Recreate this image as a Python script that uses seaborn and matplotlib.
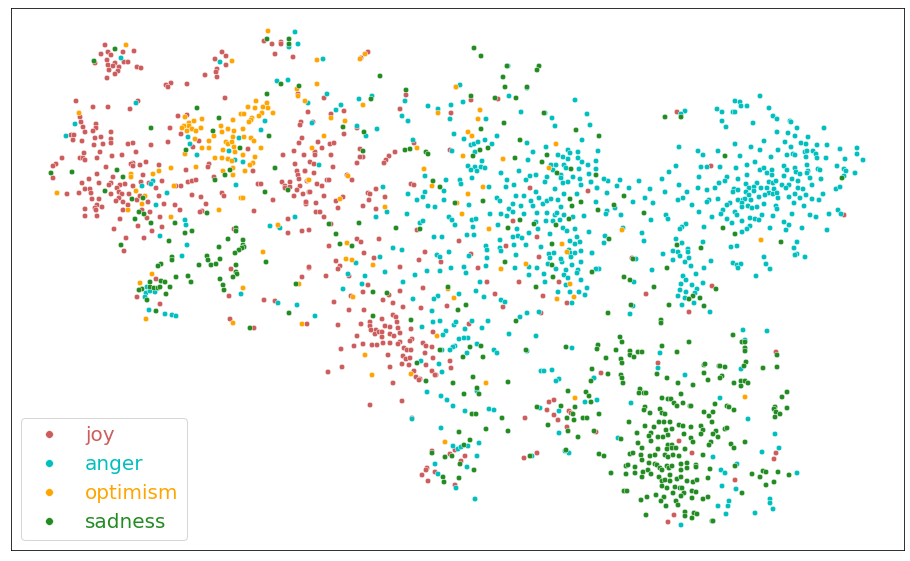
import pandas as pd
import matplotlib
matplotlib.use("Agg")
import matplotlib.pyplot as plt
import seaborn as sns

# --- Data: 2D embedding positions (arbitrary units) ---
labels = ["joy", "anger", "optimism", "sadness"]
colors = ["indianred", "#00bfbf", "orange", "forestgreen"]

joy_points = [
    (105,45),(101,54),(108,52),(111,55),(123,52),(134,51),(107,60),(95,63),(115,63),(108,65),(113,66),(124,62),(128,62),(119,67),(109,70),(118,71),(115,74),(107,78),(137,67),(141,68),
    (222,52),(226,56),(215,59),(226,65),(217,69),(216,72),(217,77),(205,75),(187,84),(171,83),(166,85),(168,87),(264,41),(272,44),(281,42),(281,44),(275,54),(293,57),
    (76,101),(93,107),(108,107),(130,109),(138,101),(225,98),(187,115),(178,116),(298,94),(80,117),(81,122),(96,124),(83,127),(96,128),(93,131),(85,132),(111,132),(71,135),(74,135),
    (95,138),(101,137),(111,139),(73,140),(82,141),(111,143),(103,144),(94,145),(128,144),(133,143),(151,145),(168,142),(170,128),(181,134),(199,141),(193,147),
    (100,152),(84,153),(136,152),(112,156),(122,155),(62,158),(80,158),(83,158),(85,160),(97,158),(56,164),(53,166),(106,167),(133,163),(131,164),(133,166),(140,165),(146,162),(159,165),
    (97,174),(53,178),(113,177),(143,175),(186,170),(82,183),(89,179),(99,183),(111,183),(109,185),(120,185),(125,184),(133,186),(141,182),(149,183),(162,181),(188,182),(192,181),(196,180),(181,186),(176,186),
    (209,164),(208,167),(214,177),(248,149),(253,171),(258,184),(261,184),(283,155),(294,151),(304,155),(295,164),(297,171),(305,171),(298,175),(299,179),(282,182),(290,182),(285,186),(300,186),
    (302,138),(299,143),(301,122),(300,125),(308,112),
    (85,189),(90,189),(91,193),(79,193),(67,194),(92,199),(99,199),(117,188),(119,192),(122,194),(111,194),(129,194),(119,198),(116,201),(123,202),(137,200),(140,196),(148,202),(128,205),(97,205),(102,207),(95,208),(96,210),(85,209),(123,210),(142,210),(150,212),(85,216),(97,216),(147,218),(160,217),(120,219),(138,226),(162,227),(114,229),(152,231),(144,238),(126,238),(124,251),
    (156,188),(159,196),(164,204),(175,205),(180,210),(192,195),(201,197),(206,204),(202,211),(200,212),(222,193),(224,196),(254,211),(273,200),(285,188),(290,187),(297,190),(294,196),(303,194),(309,192),(306,202),(306,204),(288,219),(234,229),(288,233),(302,231),(309,230),(279,227),
    (231,269),(309,268),(302,277),(156,279),(137,297),(160,304),(229,296),(264,300),(275,301),(230,319),(254,328),(307,324),
    (368,52),(361,58),(324,98),(313,122),(331,114),(344,111),(344,134),(357,128),(318,142),(322,148),(330,144),(334,143),(315,152),(315,155),(331,155),(360,149),(414,143),(450,150),(363,157),(360,157),(357,163),(389,156),(386,160),(384,163),(395,152),(310,162),(314,164),(333,167),(305,171),(314,173),(307,181),(327,180),(329,180),(317,184),(322,186),(310,192),(324,196),(306,202),(316,203),(336,201),(343,197),(338,208),(352,180),(347,175),(376,189),(368,193),(370,194),(385,197),(369,200),(363,206),(376,209),(411,184),(414,185),(400,109),(406,95),(456,87),(451,113),(471,100),(498,99),(588,191),(530,188),
    (316,212),(320,212),(324,217),(331,224),(357,239),(361,242),(379,239),(329,246),(364,253),(374,258),(336,261),(340,266),(338,269),(309,267),(326,276),(349,276),(400,267),(425,252),(419,260),(441,262),(417,230),(459,241),(471,254),(478,268),(487,282),(423,288),(506,246),(513,221),(537,237),(539,257),(519,282),(559,282),(495,294),(503,307),(543,296),(567,303),(541,313),
    (368,285),(363,292),(351,296),(334,302),(349,310),(364,310),(383,300),(389,295),(393,303),(400,291),(403,307),(421,308),(447,306),(393,315),(396,317),(382,319),(397,322),(370,322),(361,324),(338,325),(370,326),(371,330),(376,330),(385,326),(390,327),(398,328),(411,329),(433,332),(469,324),(375,334),(379,332),(382,332),(382,337),(390,334),(394,336),(400,333),(357,336),(412,339),(410,341),(400,342),(398,344),(390,343),(383,343),(377,345),(372,345),(363,344),(354,346),(341,349),(423,343),(426,346),(432,347),(404,348),(407,350),(411,350),(425,353),(388,355),(403,356),(406,359),(410,358),(433,358),(450,361),(402,364),(409,365),(426,365),(451,368),(390,367),(342,367),(328,372),(414,371),(432,371),(436,375),(416,377),(420,379),
    (677,112),(711,166),(844,215),(632,258),(646,294),(712,286),(689,312),
    (776,352),(658,363),(601,373),(596,432),(679,441),(692,453),(776,453),(774,459),(735,480),(674,515),(668,522),
    (393,383),(370,405),(402,401),(412,418),(419,380),(435,375),(549,402),(554,400),(547,410),(554,415),(569,411),(571,413),(558,420),(525,418),(567,427),(537,453),(524,458),(432,451),(450,454),(455,450),(465,456),(461,461),(427,468),(426,470),(422,475),(435,472),(428,481),(455,485),
]

anger_points = [
    (121,58),(136,103),(75,124),(66,136),(188,137),(190,144),(197,155),(220,62),(295,32),(298,44),(289,47),(277,81),(288,80),(308,103),(265,121),(261,130),(239,138),(229,151),(235,160),(243,162),(153,181),(142,186),(151,184),(236,185),
    (167,193),(156,205),(185,220),(186,225),(160,236),(187,245),(182,256),(270,226),(280,228),(295,217),(147,287),(146,293),(150,291),(155,292),(145,297),(149,310),(165,314),(172,315),(176,316),(241,294),(278,303),(297,305),
    (323,59),(327,94),(336,110),(341,105),(312,123),(357,126),(366,136),(377,129),(359,99),(372,96),(405,101),(428,106),(402,116),(408,121),(438,109),(451,105),(450,119),(463,102),(460,85),(486,119),(508,66),(509,96),(527,88),(575,100),(521,112),(545,113),(552,118),(555,126),(587,114),(590,125),(582,140),(319,165),(413,140),(454,134),(464,139),(452,151),(471,145),(474,144),(478,142),(485,140),(492,144),(497,136),(475,152),(527,143),(533,152),(546,147),(568,150),(570,153),(578,152),(598,151),(528,160),(558,155),(563,157),(568,159),(578,158),(582,162),(588,165),(596,161),(596,169),(482,161),(468,166),(475,167),(471,170),(477,171),(481,167),(485,168),(501,173),(519,171),(472,178),(425,176),(446,180),(460,180),(461,184),(507,180),(514,185),(506,187),(489,187),(526,180),(530,176),(536,175),(547,177),(545,182),(551,165),(556,165),(553,170),(564,165),(566,168),(561,175),(561,178),(573,177),(579,169),(580,179),(589,174),(581,185),(563,183),(568,182),(591,182),(597,188),(555,189),(536,192),(564,194),(577,194),(408,194),(425,192),(444,191),(423,197),(417,200),(444,200),(428,206),(435,207),(469,205),(497,198),(500,201),(516,196),(524,196),(513,204),(509,209),(521,206),(531,201),(539,198),(543,204),(547,201),(551,199),(533,206),(558,200),(561,207),(596,202),(383,187),
    (376,217),(387,212),(407,214),(420,223),(423,221),(449,217),(452,220),(455,225),(472,220),(476,219),(473,227),(490,214),(501,214),(507,216),(513,212),(524,214),(537,213),(547,213),(555,215),(557,213),(564,215),(573,217),(584,216),(498,225),(517,229),(536,222),(546,221),(553,221),(560,220),(538,229),(563,228),(567,231),(575,229),(589,232),(529,233),(550,234),(513,237),(518,236),(522,238),(467,235),(474,235),(434,237),(442,237),(500,240),(514,245),(526,245),(541,247),(570,241),(577,237),(580,242),(575,244),(569,250),(486,246),(487,250),(500,248),(501,251),(393,248),(402,250),(380,257),(356,263),(437,255),(440,257),(449,252),(469,256),(487,258),(516,255),(549,254),(554,253),(550,258),(570,253),(575,253),(581,251),(592,253),(548,264),(562,262),(561,259),(571,257),(556,269),(572,265),(581,262),(566,270),(578,270),(577,273),(564,275),(568,278),(537,268),(529,267),(515,268),(529,275),(544,274),(545,282),(566,285),(581,280),(587,288),(579,292),(585,295),(570,292),(558,292),(572,303),(597,269),(486,266),(464,267),(451,268),(466,273),(440,271),(427,271),(415,275),(385,272),(348,274),(365,276),(362,284),(403,282),(343,289),(480,282),(476,291),(459,294),(438,296),(434,299),(413,299),(484,297),(501,300),(505,302),(432,311),(527,313),(520,317),(539,312),(315,316),(440,321),(433,322),(422,327),(454,325),(456,322),(472,321),(488,321),(465,329),(482,328),(446,331),(443,335),(509,334),(536,336),(468,338),(464,338),(459,339),(477,344),(455,346),(453,347),(442,350),(450,350),(467,353),(494,350),(497,353),(527,351),(572,348),(421,361),(439,364),(442,372),(541,371),(544,371),(552,370),(559,379),(594,378),
    (760,96),(735,101),(740,102),(741,106),(747,106),(717,109),(722,112),(733,112),(735,112),(769,108),(773,116),(777,119),(722,121),(726,127),(753,123),(790,121),(791,122),(797,128),(824,128),(777,132),(788,133),(795,136),(808,137),(764,141),(785,142),(801,143),(806,144),(817,145),(827,145),(735,144),(751,147),(760,150),(778,150),(791,147),(840,149),(857,148),(857,154),(863,160),(718,151),(698,151),(703,155),(679,147),(740,156),(771,157),(787,155),(793,154),(795,155),(805,152),(807,151),(813,151),(816,154),(817,158),(806,157),(826,158),(845,159),(755,162),(747,165),(736,168),(720,167),(701,167),(707,167),(676,166),(669,172),(760,170),(764,168),(772,170),(767,173),(772,175),(784,166),(787,170),(795,168),(796,172),(800,174),(807,165),(808,171),(807,173),(818,169),(820,170),(837,166),(844,169),(846,171),(844,176),(855,173),(784,176),(747,175),(738,179),(727,177),(725,181),(719,183),(699,177),(662,179),(792,179),(810,178),(821,179),(798,181),(757,183),(769,182),(773,183),(776,181),(746,184),(679,185),(639,181),(782,185),(789,185),(786,188),(798,188),(803,189),(812,185),(749,188),(754,187),(761,188),(767,188),(774,189),(734,189),(733,192),(738,190),(715,188),(707,190),(698,188),(746,192),(754,191),(769,193),(773,194),(777,193),(765,195),(759,197),(749,195),(687,192),(665,192),(650,189),(629,188),(617,186),(620,180),(608,181),(604,179),(597,188),(607,193),(591,182),(836,189),(840,187),(823,194),(806,195),(795,194),(800,198),(789,197),(778,198),(812,199),(819,200),(794,203),(804,206),(683,198),(678,200),(718,199),(709,200),(707,202),(738,200),(743,200),(745,199),(751,200),(742,203),(730,203),(727,205),(764,204),(748,206),(742,207),(752,208),(757,207),(776,206),(777,209),(723,210),(721,214),(735,212),(737,215),(712,217),(699,212),(692,205),(653,203),(645,198),(633,202),(615,208),(607,211),(606,214),(621,215),(666,215),(668,219),(651,220),(762,215),(773,216),(792,214),(810,215),(816,217),(829,214),(838,210),(841,214),(750,218),(755,219),(759,220),(742,221),(732,223),(727,219),(784,222),(789,225),(750,226),(747,229),(742,232),(770,228),(786,230),(802,228),(827,230),(704,227),(686,224),(682,227),(680,229),(623,228),(642,233),(605,236),(604,243),(644,241),(676,239),(682,243),(703,242),(737,246),(731,247),(797,242),(794,248),(797,254),(795,255),(805,257),(764,257),(673,251),(678,252),(688,249),(688,252),(680,256),(663,254),(689,258),(673,260),(592,253),(636,259),(685,111),(681,114),
    (599,269),(596,269),(652,270),(685,262),(691,266),(711,261),(704,268),(696,274),(683,276),(686,280),(681,284),(692,285),(703,283),(680,290),(686,292),(697,289),(678,296),(685,298),(695,293),(694,303),(682,305),(710,312),(634,282),(633,306),(630,314),(733,263),(737,265),(741,264),(738,268),(756,276),(766,264),(770,269),
    (743,330),(767,331),(745,340),(660,353),(658,368),(741,369),(685,375),(594,378),(597,400),(631,403),(720,398),(748,419),(775,434),(618,438),(779,448),(762,452),(713,457),(737,464),(721,470),(725,473),(797,473),(722,486),(736,489),(729,501),(770,499),(770,503),(728,506),(718,506),(773,509),(726,514),(755,513),(681,525),
    (427,392),(441,396),(447,400),(453,406),(477,391),(465,411),(489,409),(494,410),(556,381),(585,402),(540,408),(559,411),(412,419),(441,428),(559,433),(453,446),(458,449),(461,447),(468,446),(479,443),(477,456),(532,456),(569,453),(565,451),(435,464),(467,467),(438,474),(456,488),(475,499),
]

optimism_points = [
    (126,45),(232,61),(268,31),(79,113),(297,89),(298,96),(305,101),(185,117),(189,123),(194,121),(202,119),(184,126),(182,128),(189,126),(192,129),(187,131),(196,131),(201,128),(195,139),(209,141),(214,136),(221,126),(222,132),(228,129),(234,131),(233,120),(241,114),(244,114),(248,107),(255,108),(256,101),(263,107),(267,103),(268,108),(262,113),(259,116),(273,113),(252,118),(251,120),(249,122),(243,129),(233,137),(244,137),(251,138),(254,141),(226,142),(228,144),(232,142),(234,147),(202,148),(209,148),(223,150),(235,152),(261,148),(185,154),(215,158),(222,158),(228,159),(232,161),(243,155),(255,157),(253,163),(250,165),(233,168),(245,171),(223,171),(233,175),(196,167),(171,168),(159,171),(153,174),(131,174),(131,177),(174,186),(308,180),
    (57,193),(136,191),(145,196),(142,204),(128,210),(171,217),(219,210),(241,198),(243,198),(278,225),(263,252),(152,274),(140,283),(299,284),(243,288),(146,319),(233,323),(302,324),
    (317,60),(365,54),(360,59),(317,84),(363,105),(331,118),(345,121),(324,136),(312,148),(348,176),(309,180),(340,199),(385,207),(417,148),(456,87),(438,113),(480,110),(478,119),(468,132),(472,136),(463,156),(503,159),(556,144),(424,169),(432,186),(468,194),(483,187),(457,203),(549,168),
    (462,214),(489,229),(562,244),(567,252),(347,243),(346,259),(352,260),(373,265),(526,264),(501,269),(570,284),(574,297),(557,299),(448,289),(454,298),(353,297),(437,336),(365,355),(372,375),(411,374),
    (622,230),(761,240),(745,397),(486,383),(575,398),(445,442),
]

sadness_points = [
    (115,49),(94,61),(267,39),(289,39),(289,44),(281,84),(299,86),(267,94),(197,108),(219,118),(151,128),(213,131),(269,136),(240,148),(186,150),(275,168),(230,170),(225,175),(215,180),(51,173),(72,172),(117,170),(123,177),
    (105,191),(143,198),(132,199),(139,212),(144,214),(135,219),(151,223),(175,223),(207,213),(265,192),(288,190),(192,231),(185,233),(236,228),(236,231),(228,239),(243,240),(169,241),(121,245),(219,247),(243,245),(244,247),(242,248),(239,250),(235,253),(207,256),(208,260),(220,259),(172,257),(172,260),(161,264),(158,266),(199,265),(211,265),(216,264),(236,265),(236,272),(237,274),(233,277),(266,262),(176,277),(188,276),(191,282),(220,279),(223,285),(224,290),(150,282),(161,281),(165,282),(150,287),(154,288),(158,288),(160,287),(170,287),(142,289),(139,290),(166,294),(147,300),(156,311),(296,284),(289,313),(250,328),
    (380,76),(474,48),(481,56),(507,66),(539,66),(537,70),(503,77),(505,87),(527,87),(471,96),(495,98),(516,98),(406,90),(371,99),(544,113),(504,123),(481,129),(343,127),(364,132),(576,130),(599,136),(520,140),(363,151),(405,150),(410,149),(426,152),(428,154),(480,150),(488,148),(473,156),(547,155),(515,158),(542,162),(571,169),(557,173),(596,175),(433,181),(440,187),(483,201),(455,203),(570,199),(581,202),(572,206),
    (359,223),(329,224),(396,228),(420,229),(336,234),(340,244),(352,246),(520,220),(508,228),(534,224),(556,225),(569,219),(552,244),(505,262),(552,265),(553,277),(536,287),(592,272),(598,210),(448,287),(373,292),(387,293),(458,310),(466,305),(373,316),(411,320),(516,321),(440,350),(470,347),(481,346),(526,350),(566,347),(598,345),(597,349),(463,357),(483,357),(417,363),(592,369),(473,377),
    (665,117),(681,117),(725,156),(842,178),(624,196),(614,205),(644,213),(723,228),(735,234),(781,242),(609,239),(677,245),(701,248),(633,259),
    (667,268),(624,277),(630,280),(654,287),(631,305),(608,313),(669,305),(716,289),(693,296),(689,299),(700,298),(704,306),(661,320),(661,323),
    (620,337),(622,342),(616,350),(630,351),(630,355),(634,357),(638,352),(642,352),(662,346),(689,342),(677,352),(606,358),(621,359),(622,363),(608,374),(621,375),(622,378),(623,383),(591,381),(657,374),(667,378),(678,383),(693,385),(733,335),(742,342),(745,342),(745,348),(745,351),(704,365),(705,364),(719,366),(720,366),(725,367),(704,373),(708,380),(722,376),(720,378),(734,383),(741,381),(741,386),(745,381),(748,383),(746,362),(744,366),(763,368),(777,355),(777,367),
    (640,389),(639,393),(644,393),(646,393),(681,394),(662,398),(668,399),(671,399),(674,403),(677,406),(683,403),(690,406),(691,406),(715,404),(727,406),(729,407),(734,410),(787,392),(782,397),(775,407),(774,409),(776,412),(780,414),(787,408),(775,417),(645,407),(644,410),(650,413),(660,409),(662,413),(665,414),(599,414),(704,412),(713,412),(709,416),(712,422),(629,422),(659,422),(664,422),(670,422),(645,426),(654,427),(679,425),(683,426),(691,427),(701,426),(703,430),(666,430),(672,429),(716,431),(725,429),(727,428),(637,433),(651,433),(649,436),(684,434),(701,434),(713,434),(718,437),(668,435),(658,437),(663,437),(691,438),(693,442),(651,441),(638,443),(594,431),(621,439),(745,442),(731,444),(734,448),(711,442),(709,445),(668,445),(672,445),(642,448),(658,449),(667,449),(672,448),(676,448),(685,449),
    (599,454),(604,456),(630,454),(633,453),(641,455),(650,456),(655,455),(665,455),(668,457),(673,455),(679,456),(703,455),(642,460),(649,463),(655,464),(657,465),(660,468),(662,470),(667,466),(669,468),(672,466),(681,464),(687,463),(687,468),(696,465),(696,467),(735,466),(626,466),(628,465),(635,467),(611,473),(626,474),(635,473),(643,472),(642,477),(648,470),(651,474),(681,470),(710,469),(670,475),(659,477),(662,481),(665,480),(670,481),(677,479),(681,477),(687,481),(693,482),(697,480),(708,478),(752,474),(760,477),(763,471),(766,472),(778,472),(789,475),(766,485),(774,482),(662,486),(667,488),(675,487),(680,488),(682,488),(692,491),(696,492),(684,493),(673,493),(624,491),(627,491),(656,495),(664,497),(647,497),(641,500),(661,501),(681,496),(692,498),(703,499),(708,497),(676,501),(678,505),(666,506),(742,493),(646,515),(685,512),(685,516),(694,513),(697,514),(692,518),(712,521),(713,521),
    (426,381),(453,383),(477,388),(464,394),(479,394),(508,382),(568,391),(586,392),(589,396),(591,402),(537,407),(561,406),(575,407),(472,414),(476,414),(502,418),(573,414),(567,418),(574,420),(583,418),(587,418),(548,425),(568,431),(578,437),(459,432),(486,429),(508,431),(470,440),(464,445),(432,453),(445,457),(452,456),(460,464),(474,470),(443,477),(444,482),(459,478),(566,450),(530,456),
]


def build_frame():
    """Stack the point lists into one long table for seaborn."""
    rows = []
    for name, points in zip(labels, [joy_points, anger_points, optimism_points, sadness_points]):
        for x, y in points:
            rows.append({"x": x, "y": y, "emotion": name})
    return pd.DataFrame(rows)


def main():
    df = build_frame()

    fig, ax = plt.subplots(figsize=(910 / 72, 561 / 72), dpi=72)
    fig.subplots_adjust(left=11 / 910, right=904 / 910, top=1 - 8 / 561, bottom=1 - 550 / 561)

    sns.scatterplot(data=df, x="x", y="y", hue="emotion", hue_order=labels,
                    palette=dict(zip(labels, colors)), s=30, ax=ax)

    ax.set_xlim(11, 904)
    ax.set_ylim(550, 8)
    ax.set(xticks=[], yticks=[], xlabel="", ylabel="")

    # legend text takes the colour of its class
    leg = ax.legend(loc="lower left", fontsize=20, markerscale=1.4)
    for txt, c in zip(leg.get_texts(), colors):
        txt.set_color(c)

    fig.savefig("out.png", dpi=72)
    plt.close(fig)


if __name__ == "__main__":
    main()
